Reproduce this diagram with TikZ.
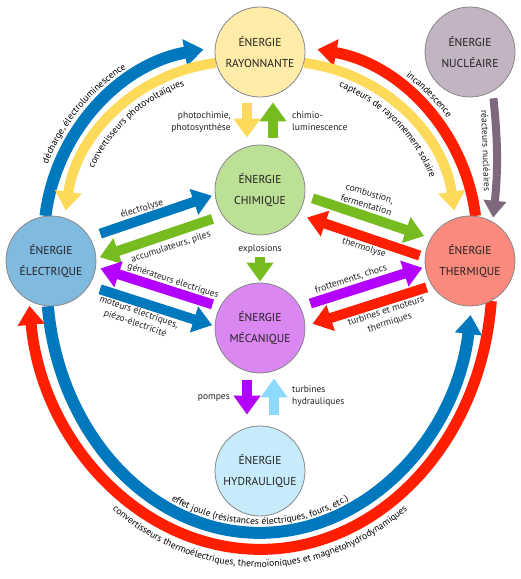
\documentclass[tikz,border=0pt]{standalone}
\usepackage{fontspec}
\setmainfont{PT Sans}
\usetikzlibrary{arrows.meta,decorations.text,backgrounds}

\definecolor{inktext}{RGB}{35,31,32}
\definecolor{rimgray}{RGB}{135,135,135}
\definecolor{rayfill}{RGB}{254,236,168}
\definecolor{nucfill}{RGB}{194,180,192}
\definecolor{chifill}{RGB}{188,224,150}
\definecolor{elefill}{RGB}{128,186,223}
\definecolor{thefill}{RGB}{250,138,125}
\definecolor{mecfill}{RGB}{218,135,242}
\definecolor{hydfill}{RGB}{198,236,252}
\definecolor{flowblue}{RGB}{0,120,190}
\definecolor{flowyellow}{RGB}{254,218,90}
\definecolor{flowgreen}{RGB}{118,188,33}
\definecolor{flowred}{RGB}{255,30,0}
\definecolor{flowpurple}{RGB}{180,0,255}
\definecolor{flowsky}{RGB}{140,218,255}
\definecolor{flowmauve}{RGB}{126,104,126}

\newcommand{\arcfont}{\fontsize{9.5}{11}\selectfont}

\begin{document}
\begin{tikzpicture}[x=1pt,y=1pt,>={Triangle[length=19pt,width=26pt]},
  every node/.style={text=inktext},
  energy/.style={circle,draw=rimgray,line width=0.8pt,minimum size=90pt,inner sep=0pt,
    align=center,font=\fontsize{11.5}{21}\selectfont},
  flow/.style={->,line width=10pt,draw=#1},
  band/.style={->,line width=12pt,draw=#1},
  lbl/.style={font=\fontsize{9.5}{12}\selectfont,inner sep=0pt,align=center}]
  \useasboundingbox (0,0) rectangle (521,579);

  \node[energy,fill=rayfill] (ray) at (260,527) {ÉNERGIE\\RAYONNANTE};
  \node[energy,fill=nucfill] (nuc) at (470,527) {ÉNERGIE\\NUCLÉAIRE};
  \node[energy,fill=chifill] (chi) at (260,389) {ÉNERGIE\\CHIMIQUE};
  \node[energy,fill=elefill] (ele) at (51,318) {ÉNERGIE\\ÉLECTRIQUE};
  \node[energy,fill=thefill] (the) at (470,318) {ÉNERGIE\\THERMIQUE};
  \node[energy,fill=mecfill] (mec) at (260,251) {ÉNERGIE\\MÉCANIQUE};
  \node[energy,fill=hydfill] (hyd) at (260,108) {ÉNERGIE\\HYDRAULIQUE};

  % centres of the big arcs
  \coordinate (cbl) at (237,339);
  \coordinate (cyl) at (237.4,344.4);
  \coordinate (cbr) at (284,339);
  \coordinate (cyr) at (282.6,344.4);
  \coordinate (cjoule) at (260,299.5);
  \coordinate (cconv) at (260,302);

  % big arcs
  \begin{scope}[on background layer]
    \draw[band=flowblue] (ele.97) arc[start angle=173,end angle=100,radius=193];
    \draw[band=flowyellow,line width=10pt] (ray.194) arc[start angle=97,end angle=172,radius=173];
    \draw[band=flowred,line width=11pt] (the.83) arc[start angle=7,end angle=80,radius=193];
    \draw[band=flowyellow,line width=10pt] (ray.-14) arc[start angle=83,end angle=8,radius=173];
    \draw[band=flowblue] (ele.266) arc[start angle=186,end angle=352,x radius=213,y radius=253];
    \draw[band=flowred,line width=11pt] (the.-62) arc[start angle=-5,end angle=-174,x radius=232,y radius=272];
  \end{scope}
  \draw[flow=flowmauve,line width=8pt,-{Triangle[length=17pt,width=22pt]},shorten <=7pt,shorten >=4pt]
    (nuc.-60) to[bend left=6] (the.60);

  % arc labels
  \path[decorate,decoration={text along path,text align=center,text={|\arcfont|décharge, électroluminescence}}]
    ([shift={(168:204)}]cbl) arc[start angle=168,end angle=113,radius=204];
  \path[decorate,decoration={text along path,text align=center,text={|\arcfont|convertisseurs photovoltaïques}}]
    ([shift={(170:158)}]cyl) arc[start angle=170,end angle=95,radius=158];
  \path[decorate,decoration={text along path,text align=center,text={|\arcfont|incandescence}}]
    ([shift={(72:204)}]cbr) arc[start angle=72,end angle=18,radius=204];
  \path[decorate,decoration={text along path,text align=center,text={|\arcfont|capteurs de rayonnement solaire}}]
    ([shift={(85:158)}]cyr) arc[start angle=85,end angle=5,radius=158];
  \path[decorate,decoration={text along path,text align=center,text={|\arcfont|effet joule (résistances électriques, fours, etc.)}}]
    ([shift={(225:205 and 245)}]cjoule) arc[start angle=225,end angle=315,x radius=205,y radius=245];
  \path[decorate,decoration={text along path,text align=center,text={|\arcfont|convertisseurs thermoélectriques, thermoïoniques et magnétohydrodynamiques}}]
    ([shift={(200:247 and 290)}]cconv) arc[start angle=200,end angle=340,x radius=247,y radius=290];

  % vertical arrows
  \draw[flow=flowyellow,transform canvas={shift={(-13,0)}},shorten <=6pt,shorten >=7pt] (ray) -- (chi);
  \draw[flow=flowgreen,transform canvas={shift={(13,0)}},shorten <=7pt,shorten >=5pt] (chi) -- (ray);
  \draw[flow=flowgreen,shorten <=22pt,shorten >=1pt] (chi) -- (mec);
  \draw[flow=flowpurple,transform canvas={shift={(-13,0)}},shorten <=7pt,shorten >=11pt] (mec) -- (hyd);
  \draw[flow=flowsky,transform canvas={shift={(14,0)}},shorten <=11pt,shorten >=5pt] (hyd) -- (mec);

  % slanted arrows
  \draw[flow=flowblue,transform canvas={shift={(-3.2,9.5)}},shorten <=10pt,shorten >=2pt] (ele) -- (chi);
  \draw[flow=flowgreen,transform canvas={shift={(3.9,-11.4)}},shorten <=9pt,shorten >=2pt] (chi) -- (ele);
  \draw[flow=flowpurple,transform canvas={shift={(2.4,7.6)}},shorten <=7pt,shorten >=4pt] (mec) -- (ele);
  \draw[flow=flowblue,transform canvas={shift={(-3.7,-11.4)}},shorten <=10pt,shorten >=1pt] (ele) -- (mec);
  \draw[flow=flowgreen,transform canvas={shift={(2.9,8.5)}},shorten <=7pt,shorten >=6pt] (chi) -- (the);
  \draw[flow=flowred,transform canvas={shift={(-3.5,-10.4)}},shorten <=4pt,shorten >=8pt] (the) -- (chi);
  \draw[flow=flowpurple,transform canvas={shift={(-2.4,7.6)}},shorten <=10pt,shorten >=2pt] (mec) -- (the);
  \draw[flow=flowred,transform canvas={shift={(3.6,-11.4)}},shorten <=4pt,shorten >=6pt] (the) -- (mec);

  % labels
  \node[lbl,anchor=east,align=right] (lphoto) at (231,457) {photochimie,\\photosynthèse};
  \node[lbl,anchor=west,align=left] (lchimio) at (292,458) {chimio-\\luminescence};
  \node[lbl] (lexplo) at (260,330) {explosions};
  \node[lbl,anchor=east] (lpompes) at (230,181) {pompes};
  \node[lbl,anchor=west,align=left] (lhydro) at (292,183) {turbines\\hydrauliques};
  \node[lbl,rotate=-88] (lreact) at (486,428) {réacteurs nucléaires};
  \node[lbl,rotate=17] (lelectro) at (142,370) {électrolyse};
  \node[lbl,rotate=18] (laccu) at (171,332) {accumulateurs, piles};
  \node[lbl,rotate=-18] (lgener) at (173,298) {générateurs électriques};
  \node[lbl,rotate=-19] (lmoteur) at (137,261) {moteurs électriques,\\piézo-électricité};
  \node[lbl,rotate=-17] (lcombu) at (368,380) {combustion,\\fermentation};
  \node[lbl,rotate=-18] (lthermo) at (364,331) {thermolyse};
  \node[lbl,rotate=18] (lfrott) at (351,300) {frottements, chocs};
  \node[lbl,rotate=18] (lturb) at (388,262) {turbines et moteurs\\thermiques};
\end{tikzpicture}
\end{document}
